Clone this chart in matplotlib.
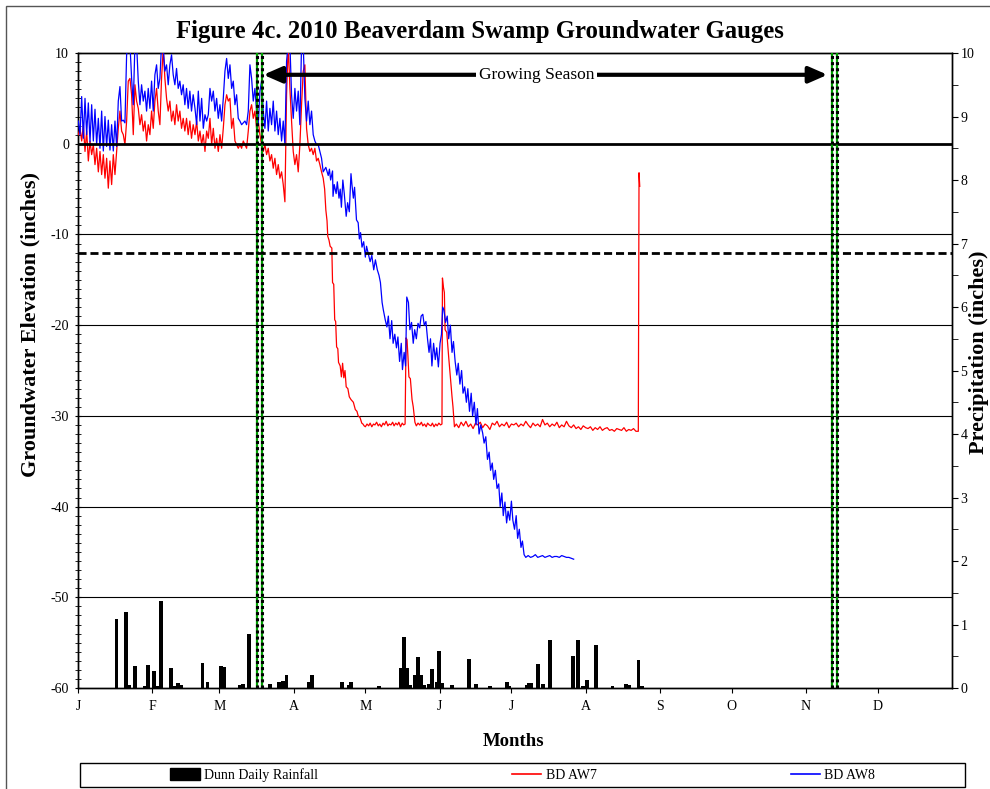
import numpy as np
import matplotlib
matplotlib.use("Agg")
import matplotlib.pyplot as plt
from matplotlib.patches import Rectangle, Patch
from matplotlib.lines import Line2D
from matplotlib.ticker import MultipleLocator

plt.rcParams['font.family'] = ['Liberation Serif', 'DejaVu Serif']
plt.rcParams['axes.unicode_minus'] = False

# ---------------- data ----------------
month_starts = [0, 31, 59, 90, 120, 151, 181, 212, 243, 273, 304, 334]
month_labels = ['J', 'F', 'M', 'A', 'M', 'J', 'J', 'A', 'S', 'O', 'N', 'D']

# Segment 1: day ~0.1 to ~48.1
aw8_seg1 = [2.5, 1.0, 5.2, 0.6, 5.0, 1.0, 4.5, 0.2, 4.3, 0.3,
            3.8, -0.1, 2.8, -0.5, 3.6, -0.8, 3.0, -0.3, 2.6, -0.7,
            2.1, -0.8, 2.5, -0.3, 4.7, 6.3, 2.5, 2.6, 2.3, 9.8,
            11, 11, 7.2, 4.3, 11, 11, 6.9, 4.3, 6.5, 4.7,
            5.8, 3.6, 6.1, 3.9, 6.9, 3.6, 7.6, 8.7, 6.1, 7.2,
            11, 10.5, 8.0, 8.7, 6.5, 8.7, 9.8, 7.6, 6.5, 8.3,
            6.1, 6.9, 5.4, 6.5, 4.3, 6.1, 3.9, 5.8, 3.6, 5.4]
aw7_seg1 = [1.0, 1.7, 0.3, 2.1, -0.85, 1.4, -1.9, 0.3, -1.2, -0.1,
            -2.3, -0.5, -3.1, -0.85, -3.4, -1.2, -3.8, -1.6, -4.9, -1.9,
            -4.5, -1.2, -3.4, -0.85, 1.7, 3.6, 1.4, 1.0, -0.1, 2.5,
            6.9, 7.2, 5.4, 1.0, 6.5, 4.7, 3.9, 2.1, 3.2, 1.4,
            2.5, 0.3, 2.1, 1.0, 3.6, 1.7, 4.7, 6.1, 3.6, 2.1,
            7.2, 10.5, 7.2, 5.0, 3.6, 4.7, 2.5, 3.6, 2.1, 4.3,
            2.5, 3.6, 1.7, 2.8, 1.4, 2.8, 1.0, 2.5, 0.6, 2.1]
seg1_start, seg1_end = 0.14, 48.1

# Segment 2: day ~48.9 to ~102.4
aw8_seg2 = [3.9, 2.1, 5.8, 2.5, 5.0, 1.7, 3.2, 2.5, 3.2, 6.1,
            4.7, 5.8, 3.6, 5.0, 2.8, 4.3, 2.5, 5.0, 8.0, 9.4,
            7.2, 8.7, 6.1, 6.9, 4.3, 5.4, 2.8, 2.5, 2.1, 2.3,
            2.5, 2.1, 3.6, 8.7, 7.2, 4.7, 6.1, 3.6, 2.1, 5.8,
            6.9, 3.6, 1.7, 4.7, 1.4, 3.9, 2.1, 4.7, 1.4, 3.6,
            1.0, 2.8, 0.3, 2.5, -0.1, 9.1, 11, 11, 5.4, 2.8,
            6.1, 3.6, 5.8, 2.1, 11, 11, 5.0, 2.5, 4.7, 2.1,
            3.6, 1.0, 0.3, -0.1, -0.1, -0.85, -1.6, -3.1]
aw7_seg2 = [1.0, 2.5, 0.3, 1.4, -0.1, 1.0, -0.85, 1.4, 0.6, 2.8,
            -0.1, 1.7, -0.5, 0.6, -0.85, 1.0, -0.5, 1.7, 4.3, 5.4,
            4.7, 5.0, 1.7, 2.8, 0.3, -0.1, -0.5, -0.1, -0.5, 0.3,
            -0.1, -0.5, 1.4, 3.6, 4.3, 2.8, 3.6, 1.7, 2.5, 1.0,
            -0.1, -0.85, -0.1, -1.2, -0.5, -1.9, -1.2, -2.7, -1.6, -3.4,
            -2.3, -3.8, -3.1, -4.5, -6.4, 5.4, 11, 6.1, 2.5, -0.85,
            -2.3, -1.2, -3.1, -0.1, 4.3, 8.0, 8.7, 1.7, -0.1, -0.85,
            -0.5, -1.2, -0.5, -1.9, -1.6, -2.3, -3.1, -3.8]
seg2_start, seg2_end = 48.85, 102.4

# Segment 3: explicit (day, value) readings
aw8_seg3_day = [103.5, 104.5, 105, 105.5, 106.3, 106.5, 107, 107.8, 108.3, 109, 109.5, 110, 110.6, 111.2,
                112, 112.6, 113.3, 114, 114.4, 115, 115.5, 116.3, 117, 117.5, 118, 118.6, 119.3, 120,
                120.5, 121.3, 122, 122.7, 123.5, 124.2, 125, 125.7, 126.3, 127, 127.5, 128.3, 129, 129.6,
                130.3, 131, 131.6, 132.3, 133, 133.6, 134.3, 135, 135.5, 136.2, 136.8, 137.3, 138, 138.6,
                139.3, 140, 140.6, 141.3, 142, 142.7, 143.3, 144, 144.6, 145.3, 146, 146.6, 147.2, 147.8,
                148.5, 149.2, 149.8, 150.5, 151.2, 151.8, 152.3, 152.8, 153.5, 154.2, 154.8, 155.5, 156.2,
                156.8, 157.5, 158.2, 158.8, 159.5, 160.2, 160.8, 161.5, 162.2, 162.8, 163.5, 164.2, 164.8,
                165.5, 166.2, 166.8, 167.5, 168.2, 169, 169.6, 170.3, 171, 171.7, 172.3, 173, 173.6, 174.3,
                175, 175.7, 176.3, 177, 177.6, 178.3, 179, 179.6, 180.3, 181, 181.6, 182.3, 183, 183.6,
                184.3, 185, 185.6, 186.3, 187, 188, 189, 190, 191, 192, 193, 194, 195, 196, 197, 198, 199,
                200, 201, 202, 203, 204, 205, 206, 207]
aw8_seg3_val = [-2.6, -3.5, -2.8, -4.0, -3.0, -5.8, -4.5, -5.5, -4.2, -6.0, -5.0, -7.0, -4.0, -5.5,
                -8.0, -6.5, -7.5, -3.3, -4.5, -6.0, -4.8, -8.4, -8.7, -10.5, -9.8, -11.4, -10.8, -12.5,
                -11.3, -12.2, -13.0, -12.3, -13.9, -12.8, -13.9, -14.5, -15.3, -17.5, -18.3, -19.4, -20.2, -19.0,
                -21.5, -19.5, -22.0, -21.0, -22.5, -21.3, -24.0, -22.0, -24.9, -23.0, -24.5, -16.9, -17.5, -20.5,
                -19.7, -22.0, -20.5, -21.5, -19.8, -20.3, -19.0, -18.8, -20.0, -19.6, -21.6, -23.0, -21.5, -24.5,
                -22.0, -23.8, -22.5, -24.6, -22.0, -21.0, -18.0, -18.3, -19.7, -19.0, -21.5, -20.0, -23.0,
                -21.8, -24.0, -25.5, -24.2, -26.5, -25.0, -27.5, -26.8, -28.5, -27.0, -29.5, -27.5, -30.0,
                -28.5, -31.0, -29.2, -32.0, -31.0, -31.9, -33.0, -32.3, -34.8, -34.0, -36.0, -35.2, -37.0, -36.0,
                -38.0, -37.5, -40.0, -38.5, -41.0, -39.5, -41.8, -40.5, -41.5, -39.4, -41.5, -42.5, -41.0, -43.5,
                -42.5, -44.5, -43.8, -45.3, -45.6, -45.4, -45.6, -45.5, -45.3, -45.6, -45.5, -45.4, -45.6, -45.5, -45.4, -45.6, -45.5,
                -45.5, -45.6, -45.4, -45.5, -45.6, -45.6, -45.7, -45.8]

aw7_seg3_day = [103, 103.5, 104, 104.3, 104.8, 105.3, 106, 106.3, 106.8, 107.2, 107.6, 108, 108.5, 108.8,
                109.5, 110, 110.5, 111, 111.5, 112, 112.7, 113.3, 114, 115, 115.8, 116.5, 117, 117.8, 118.5,
                119, 119.5, 120, 120.7, 121.4, 122, 122.7, 123.4, 124, 124.7, 125.4, 126, 126.7, 127.4, 128,
                128.7, 129.4, 130, 130.7, 131.4, 132, 132.7, 133.4, 134, 134.7, 135.4, 136, 136.6, 137.0,
                137.4, 137.8, 138.2, 138.8, 139.5, 140, 140.7, 141.3, 142, 142.7, 143.4, 144, 144.7, 145.4,
                146, 146.7, 147.4, 148, 148.7, 149.4, 150, 150.7, 151.4, 152, 152.2, 152.6, 153, 153.3, 154,
                154.8, 155.5, 156.2, 156.6, 157.2]
aw7_seg3_val = [-5.0, -7.3, -8.5, -10.2, -10.6, -11.3, -11.5, -15.3, -15.5, -19.4, -19.6, -22.4, -22.6, -24.1,
                -24.5, -25.7, -24.2, -25.8, -25.0, -26.8, -27.0, -27.9, -28.2, -28.5, -29.3, -29.5, -30.0, -30.2, -30.8,
                -30.9, -31.1, -31.2, -30.9, -31.1, -30.8, -31.2, -30.9, -31.0, -30.7, -31.1, -30.9, -31.2, -30.8, -31.0,
                -30.6, -31.1, -30.9, -31.0, -30.7, -31.1, -30.8, -31.0, -30.7, -31.2, -30.8, -31.0, -30.9, -21.4,
                -21.6, -23.5, -25.7, -25.9, -28.2, -29.0, -30.7, -31.1, -30.8, -31.0, -30.7, -31.1, -30.9, -31.2,
                -30.8, -31.0, -31.1, -30.8, -31.2, -30.9, -31.1, -30.8, -31.0, -30.9, -14.8, -15.8, -16.4, -20.5, -20.8,
                -23.5, -25.7, -27.9, -29.0, -31.2]

# Segment 4 (AW7 only): daily readings day 158..233
aw7_seg4 = [-30.9, -31.3, -30.7, -31.1, -30.6, -31.2, -30.9, -31.4, -30.8, -31.0,
            -30.7, -31.3, -30.9, -31.1, -31.5, -30.8, -31.0, -30.6, -31.2, -30.9,
            -31.1, -30.7, -31.3, -30.9, -31.0, -30.8, -31.2, -30.9, -31.1, -30.6,
            -31.0, -31.3, -30.8, -31.1, -30.9, -31.2, -30.4, -31.0, -30.8, -31.2,
            -30.9, -31.1, -30.7, -31.3, -31.0, -31.2, -30.6, -31.1, -31.3, -31.0,
            -31.4, -31.2, -31.5, -31.1, -31.3, -31.4, -31.2, -31.6, -31.3, -31.5,
            -31.2, -31.6, -31.4, -31.3, -31.6, -31.5, -31.7, -31.4, -31.5, -31.6,
            -31.3, -31.7, -31.5, -31.6, -31.4, -31.7]
seg4_start = 158
aw7_end_day = [234.0, 234.3, 234.6]
aw7_end_val = [-31.7, -3.2, -4.7]

rain_day = [16.1, 20.0, 21.4, 23.9, 28.0, 29.2, 31.9, 33.3, 34.8, 38.8, 40.5, 41.8, 43.0, 52.0, 54.1,
            59.7, 61.0, 67.6, 69.0, 71.3, 80.2, 83.9, 85.7, 87.1, 96.6, 97.8, 110.1, 113.0, 114.0, 125.8,
            134.8, 136.1, 137.4, 138.5, 140.8, 142.0, 143.2, 144.5, 146.7, 148.0, 149.8, 150.9, 151.9,
            156.3, 163.3, 166.2, 172.0, 179.0, 180.1, 187.3, 188.3, 189.4, 192.2, 194.3, 197.2, 206.8,
            208.9, 211.0, 212.4, 216.3, 223.2, 229.0, 230.2, 234.1, 235.4]
rain_in = [1.09, 1.19, 0.05, 0.35, 0.03, 0.36, 0.27, 0.03, 1.37, 0.31, 0.03, 0.08, 0.05, 0.39, 0.10,
           0.35, 0.33, 0.05, 0.06, 0.85, 0.07, 0.10, 0.11, 0.20, 0.10, 0.20, 0.10, 0.04, 0.10, 0.03,
           0.31, 0.81, 0.31, 0.05, 0.20, 0.49, 0.20, 0.05, 0.07, 0.30, 0.10, 0.58, 0.08,
           0.04, 0.45, 0.06, 0.03, 0.09, 0.03, 0.05, 0.08, 0.08, 0.38, 0.06, 0.75, 0.51,
           0.75, 0.03, 0.13, 0.68, 0.03, 0.06, 0.05, 0.44, 0.03]

season_lines = [74.6, 76.8, 314.9, 317.0]
season_arrow = (77.4, 313.0)

# ---------------- assemble ----------------
d1 = np.linspace(seg1_start, seg1_end, len(aw8_seg1))
d2 = np.linspace(seg2_start, seg2_end, len(aw8_seg2))
aw8_day = np.concatenate([d1, d2, aw8_seg3_day])
aw8_val = np.concatenate([aw8_seg1, aw8_seg2, aw8_seg3_val])
d1r = np.linspace(seg1_start, seg1_end, len(aw7_seg1))
d2r = np.linspace(seg2_start, seg2_end, len(aw7_seg2))
d4r = seg4_start + np.arange(len(aw7_seg4))
aw7_day = np.concatenate([d1r, d2r, aw7_seg3_day, d4r, aw7_end_day])
aw7_val = np.concatenate([aw7_seg1, aw7_seg2, aw7_seg3_val, aw7_seg4, aw7_end_val])

# ---------------- figure ----------------
fig = plt.figure(figsize=(9.9, 7.89), dpi=100)
ax = fig.add_axes([0.0788, 0.128, 0.8828, 0.8048])
ax.set_xlim(0, 365)
ax.set_ylim(-60, 10)
ax2 = ax.twinx()
ax2.set_ylim(0, 10)
ax2.set_zorder(ax.get_zorder() - 1)
ax.patch.set_visible(False)

# rainfall bars
ax2.bar(rain_day, rain_in, width=1.6, color='black', zorder=3)

# reference lines
for g in [-10, -20, -30, -40, -50]:
    ax.axhline(g, color='black', lw=0.8, zorder=1)
ax.axhline(0, color='black', lw=2.0, zorder=4)
ax.axhline(-12, color='black', lw=2.0, linestyle=(0, (2.9, 1.4)), zorder=4)

# groundwater lines
ax.plot(aw7_day, aw7_val, color='#ff0000', lw=0.9, zorder=3)
ax.plot(aw8_day, aw8_val, color='#0000ff', lw=0.9, zorder=3)

# growing season verticals
for d in season_lines:
    ax.axvline(d, color='#00a000', lw=1.6, zorder=5)
    ax.axvline(d, color='black', lw=2.2, linestyle=(0, (1, 1)), zorder=6)

# growing season arrow
ax.annotate('', xy=(season_arrow[0], 7.6), xytext=(season_arrow[1], 7.6),
            arrowprops=dict(arrowstyle='<|-|>,head_length=0.8,head_width=0.35',
                            lw=3, color='black', mutation_scale=14,
                            shrinkA=0, shrinkB=0), zorder=6)
ax.text(191.5, 7.6, 'Growing Season', ha='center', va='center', fontsize=12.5,
        bbox=dict(facecolor='white', edgecolor='none', pad=2), zorder=7)

# axes ticks
ax.set_xticks(month_starts)
ax.set_xticklabels(month_labels, fontsize=10)
ax.tick_params(axis='x', direction='out', length=3.6, pad=5)
ax.set_yticks(np.arange(-60, 11, 10))
ax.yaxis.set_minor_locator(MultipleLocator(1))
ax.tick_params(axis='y', which='both', direction='inout', length=5, labelsize=10, pad=4)
ax2.set_yticks(np.arange(0, 11, 1))
ax2.yaxis.set_minor_locator(MultipleLocator(0.5))
ax2.tick_params(axis='y', which='both', direction='out', length=4, labelsize=10, pad=2)
for a in (ax, ax2):
    for s in a.spines.values():
        s.set_linewidth(1.0)

# texts
fig.text(0.485, 0.960, 'Figure 4c. 2010 Beaverdam Swamp Groundwater Gauges',
         ha='center', va='center', fontsize=17.8, fontweight='bold')
fig.text(0.031, 0.589, 'Groundwater Elevation (inches)', rotation=90,
         ha='center', va='center', fontsize=16, fontweight='bold')
fig.text(0.989, 0.553, 'Precipitation (inches)', rotation=90,
         ha='center', va='center', fontsize=16, fontweight='bold')
fig.text(0.519, 0.060, 'Months', ha='center', va='center', fontsize=13.5, fontweight='bold')

# legend
handles = [Patch(facecolor='black', edgecolor='black'),
           Line2D([], [], color='#ff0000', lw=1.2),
           Line2D([], [], color='#0000ff', lw=1.2)]
labels = ['Dunn Daily Rainfall', 'BD AW7', 'BD AW8']
fig.legend(handles, labels, loc='center', bbox_to_anchor=(0.528, 0.0177), ncol=3,
           frameon=False, fontsize=10, columnspacing=14.0, handlelength=2.1,
           handleheight=0.9, handletextpad=0.3, borderpad=0)
fig.add_artist(Rectangle((80 / 990, 1 - 787 / 789), 885 / 990, 24 / 789,
                         transform=fig.transFigure, facecolor='none',
                         edgecolor='black', lw=1.0))
# outer chart border
fig.add_artist(Rectangle((6 / 990, -0.2), 1.2, 1.2 - 6 / 789,
                         transform=fig.transFigure, facecolor='none',
                         edgecolor='#555555', lw=1.0))

fig.savefig('out.png', dpi=100)
